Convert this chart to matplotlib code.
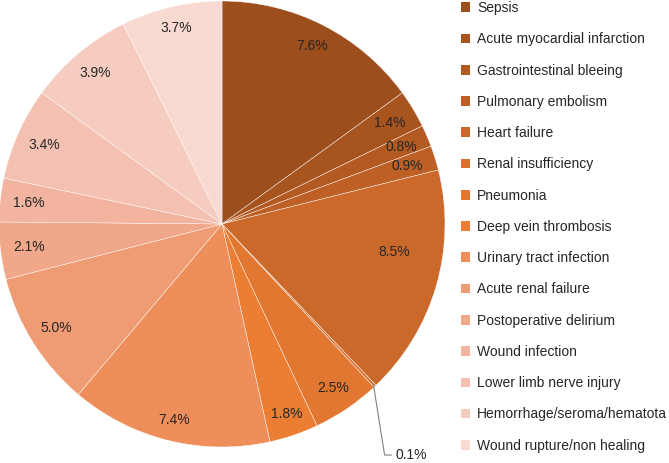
# Postoperative complications - pie chart with legend on the right
import matplotlib.pyplot as plt
import numpy as np
from matplotlib.patches import Patch

plt.rcParams['font.family'] = ['Liberation Sans', 'DejaVu Sans']

# data
complications = ['Sepsis', 'Acute myocardial infarction', 'Gastrointestinal bleeing',
                 'Pulmonary embolism', 'Heart failure', 'Renal insufficiency',
                 'Pneumonia', 'Deep vein thrombosis', 'Urinary tract infection',
                 'Acute renal failure', 'Postoperative delirium', 'Wound infection',
                 'Lower limb nerve injury', 'Hemorrhage/seroma/hematota',
                 'Wound rupture/non healing']
percent = [7.6, 1.4, 0.8, 0.9, 8.5, 0.1, 2.5, 1.8, 7.4, 5.0, 2.1, 1.6, 3.4, 3.9, 3.7]
colors = ['#9C4F1C', '#A8541F', '#B35A22', '#BE6026', '#CB692B', '#D8712F',
          '#E27731', '#EC7E33', '#EE8E5B', '#EF9B74', '#F1A78A', '#F2B39F',
          '#F4C0B1', '#F6CCC0', '#F8DAD2']

fig = plt.figure(figsize=(6.69, 4.63), dpi=100)
ax = fig.add_axes([-1 / 669, (463 - 224 - 223) / 463, 446 / 669, 446 / 463])

labels_txt = ['%.1f%%' % p for p in percent]
wedges, _ = ax.pie(percent, colors=colors, startangle=90, counterclock=False,
                   wedgeprops=dict(edgecolor='white', linewidth=0.3))

# percentage labels at the inside end of each slice
total = float(np.sum(percent))
cum = 0.0
for i, p in enumerate(percent):
    mid = 90 - (cum + p / 2) / total * 360
    cum += p
    a = np.deg2rad(mid)
    if p < 0.5:
        # tiny slice: label outside with a leader line
        x0, y0 = 0.99 * np.cos(a), 0.99 * np.sin(a)
        ax.plot([x0, x0 + 0.05, x0 + 0.08], [y0, -1.036, -1.036], color='#808080',
                lw=0.8, clip_on=False)
        ax.text(x0 + 0.1, -1.036, labels_txt[i], fontsize=10, va='center', ha='left',
                color='#262626')
        continue
    if p > 8:
        # best-fit placement for the largest slice
        a = np.deg2rad(mid + 7)
        d = 0.78
    else:
        d = 0.915 - 0.045 * abs(np.cos(a))
    ax.text(d * np.cos(a), d * np.sin(a), labels_txt[i], fontsize=10,
            ha='center', va='center', color='#262626')

ax.set_xlim(-1, 1)
ax.set_ylim(-1, 1)
ax.set_aspect('equal')

# legend on the right
handles = [Patch(facecolor=c, edgecolor='none') for c in colors]
fig.legend(handles, complications, loc='upper left', bbox_to_anchor=(455 / 669, 1.0097),
           frameon=False, fontsize=10, handlelength=0.7, handleheight=0.7,
           handletextpad=0.5, labelspacing=1.243, borderaxespad=0, labelcolor='#262626')

fig.savefig('out.png', dpi=100)
